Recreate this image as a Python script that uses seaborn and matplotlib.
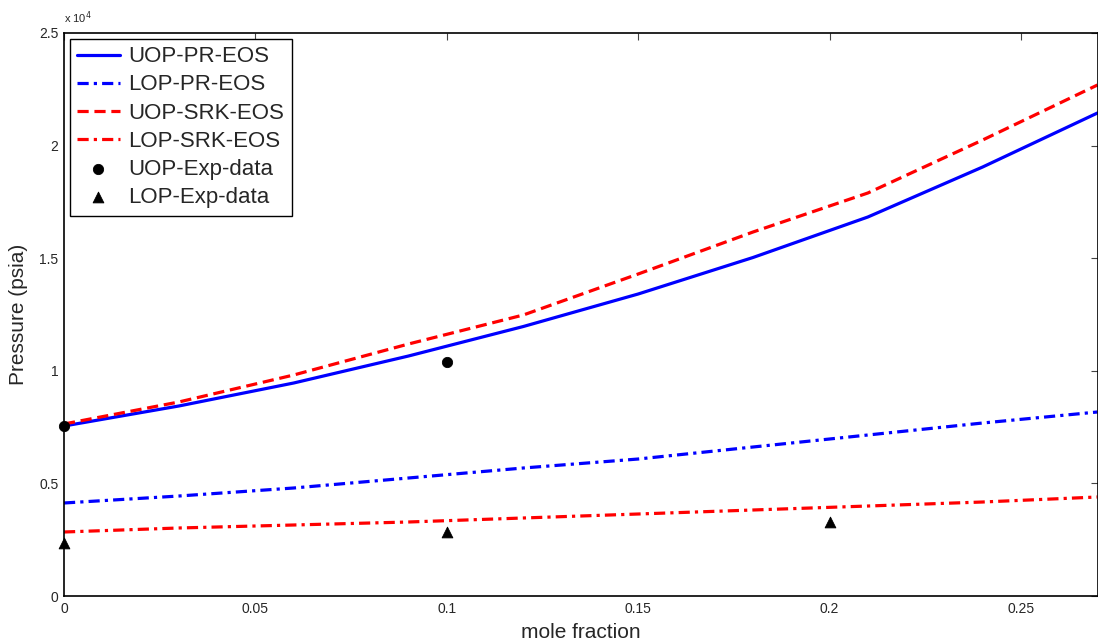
import numpy as np
import pandas as pd
import matplotlib
matplotlib.use("Agg")
import matplotlib.pyplot as plt
import seaborn as sns
from matplotlib.ticker import FuncFormatter

# ---- data ----
mole_fraction = [0.0, 0.03, 0.06, 0.09, 0.12, 0.15, 0.18, 0.21, 0.24, 0.27]
uop_pr = [7549, 8437, 9458, 10657, 11967, 13410, 15031, 16829, 19050, 21448]
lop_pr = [4130, 4440, 4796, 5240, 5684, 6083, 6616, 7149, 7682, 8171]
uop_srk = [7638, 8615, 9813, 11190, 12478, 14298, 16163, 17895, 20249, 22691]
lop_srk = [2842, 3020, 3153, 3286, 3464, 3641, 3819, 3996, 4174, 4396]

uop_exp_x = [0.0, 0.1]
uop_exp_y = [7550, 10400]
lop_exp_x = [0.0, 0.1, 0.2]
lop_exp_y = [2350, 2850, 3300]

x_ticks = [0, 0.05, 0.1, 0.15, 0.2, 0.25]
x_tick_labels = ["0", "0.05", "0.1", "0.15", "0.2", "0.25"]
y_ticks = [0, 5000, 10000, 15000, 20000, 25000]

sns.set_style("white")
plt.rcParams['font.family'] = ['Liberation Sans', 'DejaVu Sans']

fig = plt.figure(figsize=(10.98, 6.42), dpi=100)
ax = fig.add_axes([64/1098, 1-596/642, (1097.5-64)/1098, (596-33)/642])

lw = 2.3
sns.lineplot(x=mole_fraction, y=uop_pr, ax=ax, color="#0000ff", lw=lw,
             label="UOP-PR-EOS", linestyle="-")
sns.lineplot(x=mole_fraction, y=lop_pr, ax=ax, color="#0000ff", lw=lw,
             label="LOP-PR-EOS")
sns.lineplot(x=mole_fraction, y=uop_srk, ax=ax, color="#ff0000", lw=lw,
             label="UOP-SRK-EOS")
sns.lineplot(x=mole_fraction, y=lop_srk, ax=ax, color="#ff0000", lw=lw,
             label="LOP-SRK-EOS")
lines = ax.get_lines()
lines[1].set_dashes((3.5, 1.6, 1.0, 1.6))
lines[2].set_dashes((3.5, 1.8))
lines[3].set_dashes((3.5, 1.6, 1.0, 1.6))

sns.scatterplot(x=uop_exp_x, y=uop_exp_y, ax=ax, color="black", marker="o",
                s=55, edgecolor="black", label="UOP-Exp-data", zorder=5, clip_on=False)
sns.scatterplot(x=lop_exp_x, y=lop_exp_y, ax=ax, color="black", marker="^",
                s=60, edgecolor="black", label="LOP-Exp-data", zorder=5, clip_on=False)

ax.set_xlim(0, 0.27)
ax.set_ylim(0, 25000)
ax.set_xticks(x_ticks)
ax.set_xticklabels(x_tick_labels)
ax.set_yticks(y_ticks)
ax.yaxis.set_major_formatter(FuncFormatter(lambda v, p: "%g" % (v / 1e4)))

ax.tick_params(direction="in", length=5, width=0.8, color="#444444",
               labelsize=10, top=True, right=True, pad=4)
for s in ax.spines.values():
    s.set_color("black")
    s.set_linewidth(1.2)

ax.set_xlabel("mole fraction", fontsize=15, labelpad=5)
ax.set_ylabel("Pressure (psia)", fontsize=15, labelpad=8)

ax.text(0.0, 1.012, r"x 10$^{4}$", transform=ax.transAxes, fontsize=8,
        ha="left", va="bottom")

leg = ax.legend(loc="upper left", fontsize=16, frameon=True, fancybox=False,
                edgecolor="black", handlelength=1.9, handletextpad=0.4,
                labelspacing=0.32, borderpad=0.35, borderaxespad=0.25,
                framealpha=1)
leg.get_frame().set_linewidth(1.0)

fig.savefig("out.png", dpi=100)
